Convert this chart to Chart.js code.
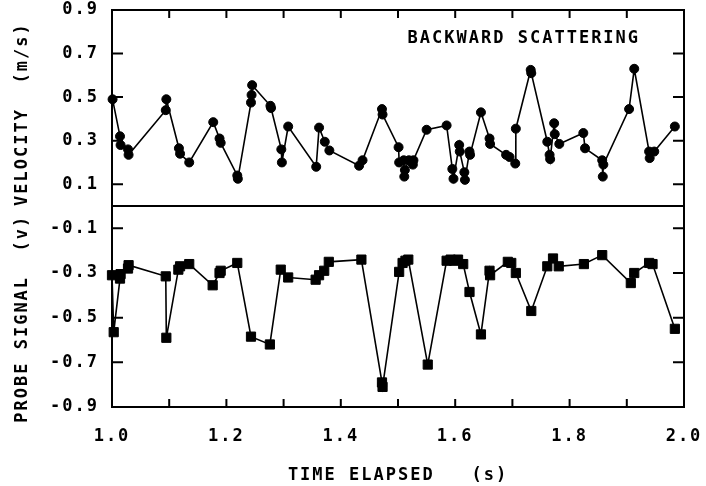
<!DOCTYPE html>
<html>
<head>
<meta charset="utf-8">
<script src="https://cdn.jsdelivr.net/npm/chart.js@4.4.1/dist/chart.umd.min.js"></script>
<style>
    html, body { margin: 0; padding: 0; background: #fff; }
</style>
</head>
<body>
<canvas id="chart" width="706" height="486"></canvas>
<script>
// velocity samples (top panel)
const velTime = [1.001, 1.014, 1.015, 1.028, 1.029, 1.094, 1.095, 1.117, 1.119, 1.135,
    1.177, 1.188, 1.190, 1.219, 1.220, 1.243, 1.244, 1.245, 1.277, 1.278,
    1.296, 1.297, 1.308, 1.357, 1.362, 1.372, 1.380, 1.432, 1.438, 1.472,
    1.473, 1.501, 1.502, 1.510, 1.511, 1.512, 1.519, 1.526, 1.527, 1.550,
    1.585, 1.595, 1.597, 1.607, 1.608, 1.616, 1.617, 1.625, 1.626, 1.645,
    1.660, 1.661, 1.689, 1.695, 1.705, 1.706, 1.732, 1.733, 1.761, 1.765,
    1.766, 1.773, 1.774, 1.782, 1.824, 1.827, 1.857, 1.858, 1.859, 1.904,
    1.913, 1.939, 1.940, 1.948, 1.984];
const velValue = [0.49, 0.32, 0.28, 0.26, 0.235, 0.44, 0.49, 0.265, 0.24, 0.20,
    0.385, 0.31, 0.29, 0.14, 0.125, 0.475, 0.51, 0.555, 0.46, 0.45,
    0.26, 0.20, 0.365, 0.18, 0.36, 0.295, 0.255, 0.185, 0.21, 0.445,
    0.42, 0.27, 0.20, 0.21, 0.135, 0.165, 0.21, 0.19, 0.21, 0.35,
    0.37, 0.17, 0.125, 0.28, 0.25, 0.155, 0.12, 0.25, 0.235, 0.43,
    0.31, 0.285, 0.235, 0.225, 0.195, 0.355, 0.625, 0.61, 0.295, 0.235,
    0.215, 0.38, 0.33, 0.285, 0.335, 0.265, 0.21, 0.135, 0.19, 0.445,
    0.63, 0.25, 0.22, 0.25, 0.365];

// probe signal samples (bottom panel)
const sigTime = [1.000, 1.003, 1.014, 1.015, 1.028, 1.029, 1.094, 1.095, 1.116, 1.119,
    1.135, 1.176, 1.188, 1.190, 1.219, 1.243, 1.276, 1.295, 1.308, 1.356,
    1.362, 1.371, 1.379, 1.436, 1.472, 1.473, 1.502, 1.508, 1.513, 1.518,
    1.552, 1.585, 1.592, 1.598, 1.605, 1.614, 1.625, 1.645, 1.660, 1.661,
    1.692, 1.698, 1.706, 1.733, 1.761, 1.771, 1.781, 1.825, 1.857, 1.907,
    1.913, 1.939, 1.945, 1.984];
const sigValue = [-0.31, -0.565, -0.325, -0.305, -0.28, -0.265, -0.315, -0.59, -0.285, -0.27,
    -0.26, -0.355, -0.30, -0.29, -0.255, -0.585, -0.62, -0.285, -0.32, -0.33,
    -0.31, -0.29, -0.25, -0.24, -0.79, -0.81, -0.295, -0.255, -0.245, -0.24,
    -0.71, -0.245, -0.24, -0.245, -0.24, -0.26, -0.385, -0.575, -0.29, -0.31,
    -0.25, -0.255, -0.30, -0.47, -0.27, -0.235, -0.27, -0.26, -0.22, -0.345,
    -0.30, -0.255, -0.26, -0.55];

const xTickValues = [1.0, 1.2, 1.4, 1.6, 1.8, 2.0];
const velTicks = [0.1, 0.3, 0.5, 0.7, 0.9];
const sigTicks = [-0.9, -0.7, -0.5, -0.3, -0.1];

const FONT = "'DejaVu Sans Mono', 'Liberation Mono', monospace";

Chart.defaults.font.family = FONT;
Chart.defaults.font.size = 17;
Chart.defaults.font.weight = "bold";
Chart.defaults.color = "#000";

// frame, inner ticks and the panel label
const frame = {
    id: "frame",
    beforeLayout(chart) { chart.ctx.letterSpacing = "2px"; },
    beforeDraw(chart) { chart.ctx.letterSpacing = "2px"; },
    afterDatasetsDraw(chart) {
        const { ctx, chartArea: a, scales } = chart;
        const x = scales.x, yt = scales.yVel, yb = scales.ySig;
        ctx.save();
        ctx.strokeStyle = "#000";
        ctx.lineWidth = 2;
        ctx.strokeRect(a.left, a.top, a.right - a.left, a.bottom - a.top);
        ctx.beginPath();
        ctx.moveTo(a.left, yt.bottom);
        ctx.lineTo(a.right, yt.bottom);
        velTicks.forEach((v) => {
            let p = yt.getPixelForValue(v);
            ctx.moveTo(a.left, p); ctx.lineTo(a.left + 11, p);
            ctx.moveTo(a.right, p); ctx.lineTo(a.right - 11, p);
        });
        sigTicks.forEach((v) => {
            let p = yb.getPixelForValue(v);
            ctx.moveTo(a.left, p); ctx.lineTo(a.left + 11, p);
            ctx.moveTo(a.right, p); ctx.lineTo(a.right - 11, p);
        });
        for (let i = 1; i < 10; i++) {
            let p = x.getPixelForValue(1 + i / 10);
            ctx.moveTo(p, a.top); ctx.lineTo(p, a.top + 8);
            ctx.moveTo(p, a.bottom); ctx.lineTo(p, a.bottom - 8);
        }
        ctx.stroke();
        ctx.fillStyle = "#000";
        ctx.font = "bold 17px " + FONT;
        ctx.letterSpacing = "2px";
        ctx.textAlign = "center";
        ctx.textBaseline = "middle";
        ctx.fillText("BACKWARD SCATTERING", x.getPixelForValue(1.72), yt.getPixelForValue(0.77));
        ctx.restore();
    },
};

// no extra room for overhanging tick labels
function noPad(s) {
    s.paddingTop = 0;
    s.paddingBottom = 0;
    s.paddingLeft = 0;
    s.paddingRight = 0;
}

function yAxis(weight, min, max, values, title) {
    return {
        type: "linear",
        position: "left",
        stack: "panels",
        stackWeight: weight,
        min: min,
        max: max,
        afterBuildTicks: (s) => { s.ticks = values.map((v) => ({ value: v })); },
        afterFit: (s) => { s.width = 104; noPad(s); },
        ticks: { padding: 13, callback: (v) => v.toFixed(1) },
        grid: { display: false, drawTicks: false },
        border: { display: false },
        title: { display: true, text: title, padding: { top: 4, bottom: 0 } },
    };
}

new Chart(document.getElementById("chart"), {
    type: "line",
    data: {
        datasets: [
            {
                data: velTime.map((t, i) => ({ x: t, y: velValue[i] })),
                xAxisID: "x",
                yAxisID: "yVel",
                borderColor: "#000",
                borderWidth: 1.6,
                pointStyle: "circle",
                pointRadius: 4.5,
                pointBackgroundColor: "#000",
                pointBorderColor: "#000",
                pointBorderWidth: 1,
                tension: 0,
                clip: 8,
            },
            {
                data: sigTime.map((t, i) => ({ x: t, y: sigValue[i] })),
                xAxisID: "x",
                yAxisID: "ySig",
                borderColor: "#000",
                borderWidth: 1.6,
                pointStyle: "rect",
                pointRadius: 6.5,
                pointBackgroundColor: "#000",
                pointBorderColor: "#000",
                pointBorderWidth: 1,
                tension: 0,
                clip: 8,
            },
        ],
    },
    options: {
        responsive: false,
        animation: false,
        layout: { padding: { top: 10, right: 22, left: 8, bottom: 0 } },
        plugins: {
            legend: { display: false },
            tooltip: { enabled: false },
        },
        scales: {
            x: {
                type: "linear",
                min: 1,
                max: 2,
                afterBuildTicks: (s) => { s.ticks = xTickValues.map((v) => ({ value: v })); },
                afterFit: (s) => { s.height = 79; noPad(s); },
                ticks: { padding: 19, maxRotation: 0, autoSkip: false, callback: (v) => v.toFixed(1) },
                grid: { display: false, drawTicks: false },
                border: { display: false },
                title: { display: true, text: "TIME ELAPSED   (s)", padding: { top: 0, bottom: 0 } },
            },
            // left boxes are laid out in reverse order, so the lower panel comes first
            // (trailing spaces nudge the rotated titles down a little, as in the original)
            ySig: yAxis(201, -0.9, 0, sigTicks, "PROBE SIGNAL  (v)  "),
            yVel: yAxis(196, 0, 0.9, velTicks, "VELOCITY  (m/s) "),
        },
    },
    plugins: [frame],
});
</script>
</body>
</html>
